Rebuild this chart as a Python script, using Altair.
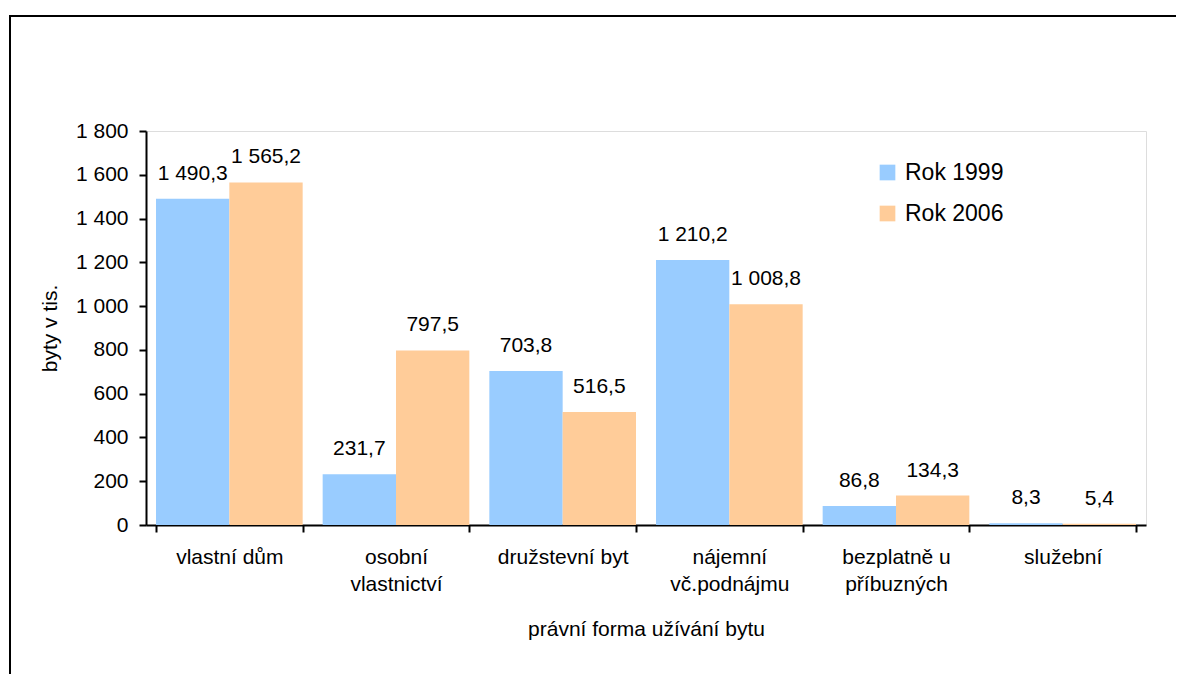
import altair as alt
import pandas as pd

categories = ["vlastní dům", "osobní|vlastnictví", "družstevní byt",
              "nájemní|vč.podnájmu", "bezplatně u|příbuzných", "služební"]
series = ["Rok 1999", "Rok 2006"]
values_1999 = [1490.3, 231.7, 703.8, 1210.2, 86.8, 8.3]
values_2006 = [1565.2, 797.5, 516.5, 1008.8, 134.3, 5.4]
y_ticks = [0, 200, 400, 600, 800, 1000, 1200, 1400, 1600, 1800]
colors = ["#99CCFF", "#FFCC99"]

rows = []
for c, a, b in zip(categories, values_1999, values_2006):
    rows.append({"cat": c, "series": series[0], "v": a})
    rows.append({"cat": c, "series": series[1], "v": b})
df = pd.DataFrame(rows)

FONT = "Liberation Sans"
W, H = 1000, 394
PAD_L, PAD_T = 138, 123
TOTAL_W, TOTAL_H = 1168, 666

x_enc = alt.X(
    "cat:N", sort=categories,
    scale=alt.Scale(paddingInner=0.12, paddingOuter=0.06),
    axis=alt.Axis(
        title="právní forma užívání bytu", labelAngle=0,
        labelExpr="split(datum.label, '|')", tickBand="extent",
        labelBaseline="alphabetic", labelPadding=31, labelLineHeight=27,
        tickSize=7, tickWidth=2, tickColor="black",
        domainColor="black", domainWidth=2,
        labelFontSize=21, labelFont=FONT, labelColor="black",
        titleFontSize=21, titleFont=FONT, titleFontWeight="normal",
        titleColor="black", titleBaseline="middle", titleY=104,
        titleX=W / 2, grid=False,
    ),
)
xo_enc = alt.XOffset("series:N", sort=series, scale=alt.Scale(paddingInner=0, paddingOuter=0))
y_enc = alt.Y(
    "v:Q",
    scale=alt.Scale(domain=[0, 1800], nice=False),
    axis=alt.Axis(
        values=y_ticks, title="byty v tis.",
        labelExpr="replace(format(datum.value, ','), ',', ' ')",
        tickSize=7, tickWidth=2, tickColor="black",
        domainColor="black", domainWidth=2, labelPadding=11,
        labelFontSize=21, labelFont=FONT, labelColor="black",
        titleFontSize=21, titleFont=FONT, titleFontWeight="normal",
        titleColor="black", titleBaseline="middle", titleAngle=-90,
        titleX=-96, titleY=H / 2, grid=False,
    ),
)

bars = alt.Chart(df).mark_bar().encode(
    x=x_enc, xOffset=xo_enc, y=y_enc,
    color=alt.Color(
        "series:N", scale=alt.Scale(domain=series, range=colors),
        legend=alt.Legend(
            title=None, orient="none", legendX=730, legendY=30,
            symbolType="square", symbolSize=246, symbolStrokeWidth=0,
            labelFontSize=23, labelFont=FONT, labelColor="black",
            labelOffset=6, rowPadding=17, padding=0,
        ),
    ),
)

labels = alt.Chart(df).transform_calculate(
    lbl="replace(replace(format(datum.v, ',.1f'), ',', ' '), '.', ',')"
).mark_text(
    baseline="alphabetic", dy=-19, fontSize=21, font=FONT, color="black"
).encode(x=x_enc, xOffset=xo_enc, y=y_enc, text="lbl:N")

frame_df = pd.DataFrame({"k": [0]})
frame_top = alt.Chart(frame_df).mark_rule(color="black", strokeWidth=2).encode(
    x=alt.value(-137), x2=alt.value(1100), y=alt.value(-115)
)
frame_left = alt.Chart(frame_df).mark_rule(color="black", strokeWidth=2).encode(
    x=alt.value(-136), y=alt.value(-116), y2=alt.value(600)
)

chart = alt.layer(frame_top, frame_left, bars, labels).properties(
    width=W, height=H,
    padding={"left": PAD_L, "top": PAD_T,
             "right": TOTAL_W - PAD_L - W, "bottom": TOTAL_H - PAD_T - H},
    autosize=alt.AutoSizeParams(type="none"),
).configure_view(
    stroke="#808080", strokeWidth=2
).configure(background="white")

chart.save("out.html", embed_options={"renderer": "svg", "actions": False})
